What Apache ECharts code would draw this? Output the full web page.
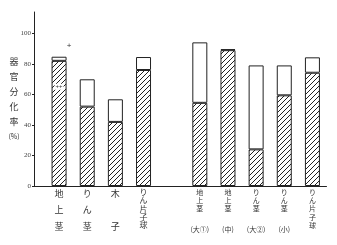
<!DOCTYPE html>
<html><head><meta charset="utf-8">
<script src="https://cdn.jsdelivr.net/npm/echarts@6/dist/echarts.min.js"></script>
<style>html,body{margin:0;padding:0;background:#fff}#c{width:337px;height:245px}</style>
</head><body><div id="c"></div>
<script>
// ---- data ----
const categories = ['地上茎','りん茎','木子','りん片子球','','地上茎(大①)','地上茎(中)','りん茎(大②)','りん茎(小)','りん片子球'];
const hatchedValues = [82, 52, 42, 76, null, 54.5, 89, 24, 59.4, 74.2];
const totalValues   = [84.7, 69.9, 56.8, 84.5, null, 94.1, 89.6, 79, 79, 84.3];
const yTicks = [0, 20, 40, 60, 80, 100];
const yName = ['器','官','分','化','率','(%)'];

// ---- styles / layout ----
const INK = '#222';
const GRID_LEFT = 45, AXIS_X = 34, GRID_BOTTOM = 59, H = 245;

function makeHatch() {
  const c = document.createElement('canvas');
  c.width = 5; c.height = 5;
  const g = c.getContext('2d');
  g.fillStyle = '#fff'; g.fillRect(0,0,5,5);
  g.strokeStyle = INK; g.lineWidth = 1;
  g.beginPath();
  g.moveTo(0,5); g.lineTo(5,0);
  g.moveTo(-1,1); g.lineTo(1,-1);
  g.moveTo(4,6); g.lineTo(6,4);
  g.stroke();
  return c;
}

const remainder = totalValues.map((t,i) => t == null ? null : +(t - hatchedValues[i]).toFixed(2));

function fmt(name, idx) {
  if (!name) return '';
  const m = name.match(/^([^(]*)(\(.*\))?$/);
  const chars = Array.from(m[1]);
  const paren = m[2];
  if (idx < 4 && chars.length <= 3) {
    if (chars.length === 2) return `{a|${chars[0]}}\n{a| }\n{a|${chars[1]}}`;
    return chars.map(c => `{a|${c}}`).join('\n');
  }
  const style = idx < 4 ? 'c' : 'b';
  const lines = ['{s| }'].concat(chars.map(c => `{${style}|${c}}`));
  if (paren) lines.push(`{p|${paren}}`);
  return lines.join('\n');
}

const chart = echarts.init(document.getElementById('c'), null, {renderer: 'canvas'});
const hatch = makeHatch();
chart.setOption({
  backgroundColor: '#fff',
  animation: false,
  grid: {left: GRID_LEFT, right: 10.5, top: 12, bottom: GRID_BOTTOM},
  xAxis: {
    type: 'category',
    data: categories,
    axisLine: {lineStyle: {color: INK, width: 1}},
    axisTick: {show: false},
    axisLabel: {
      interval: 0, margin: -1, color: '#333',
      fontFamily: 'Noto Sans CJK JP',
      formatter: fmt,
      rich: {
        a: {fontSize: 9, lineHeight: 16.5, fontFamily: 'Noto Sans CJK JP', color: '#333'},
        c: {fontSize: 8, lineHeight: 8.3, fontFamily: 'Noto Sans CJK JP', color: '#333'},
        b: {fontSize: 7, lineHeight: 8.3, fontFamily: 'Noto Sans CJK JP', color: '#333'},
        s: {fontSize: 3, lineHeight: 3},
        p: {fontSize: 7, lineHeight: 32, fontFamily: 'Noto Sans CJK JP', color: '#333'}
      }
    },
    splitLine: {show: false}
  },
  yAxis: {
    type: 'value', min: 0, max: 114, interval: 20,
    offset: GRID_LEFT - AXIS_X,
    name: yName.map(s => s.length > 1 ? `{q|${s}}` : `{n|${s}}`).join('\n'),
    nameLocation: 'middle', nameRotate: 0, nameGap: 20, nameMoveOverlap: false,
    nameTextStyle: {
      align: 'center', verticalAlign: 'middle',
      rich: {
        n: {fontSize: 9, lineHeight: 15, fontFamily: 'Noto Sans CJK JP', color: '#333'},
        q: {fontSize: 7, lineHeight: 15, fontFamily: 'Noto Sans CJK JP', color: '#333'}
      }
    },
    axisLine: {show: true, lineStyle: {color: INK, width: 1}},
    axisTick: {show: true, length: 2, lineStyle: {color: INK}, customValues: yTicks},
    axisLabel: {fontSize: 7, color: '#444', margin: 3, fontFamily: 'Liberation Serif', customValues: yTicks},
    splitLine: {show: false}
  },
  series: [
    {
      type: 'bar', stack: 'a', data: hatchedValues, barWidth: 15,
      itemStyle: {color: {image: hatch, repeat: 'repeat'}, borderColor: INK, borderWidth: 1},
      markPoint: {
        symbol: 'rect', symbolSize: [9, 6],
        itemStyle: {color: '#fff'},
        data: [{coord: [0, 65], label: {show: true, formatter: '++', position: 'inside', fontSize: 6, color: '#333'}}]
      }
    },
    {
      type: 'bar', stack: 'a', data: remainder, barWidth: 15,
      itemStyle: {color: '#fff', borderColor: INK, borderWidth: 1},
      markPoint: {
        symbol: 'circle', symbolSize: 0,
        data: [{coord: [0, 92], label: {show: true, formatter: '+', position: 'inside', offset: [10, 0], fontSize: 8, color: '#333'}}]
      }
    }
  ],
  graphic: [{
    type: 'line', silent: true,
    shape: {x1: AXIS_X, y1: H - GRID_BOTTOM + 0.5, x2: GRID_LEFT + 1, y2: H - GRID_BOTTOM + 0.5},
    style: {stroke: INK, lineWidth: 1}
  }]
});
</script></body></html>
